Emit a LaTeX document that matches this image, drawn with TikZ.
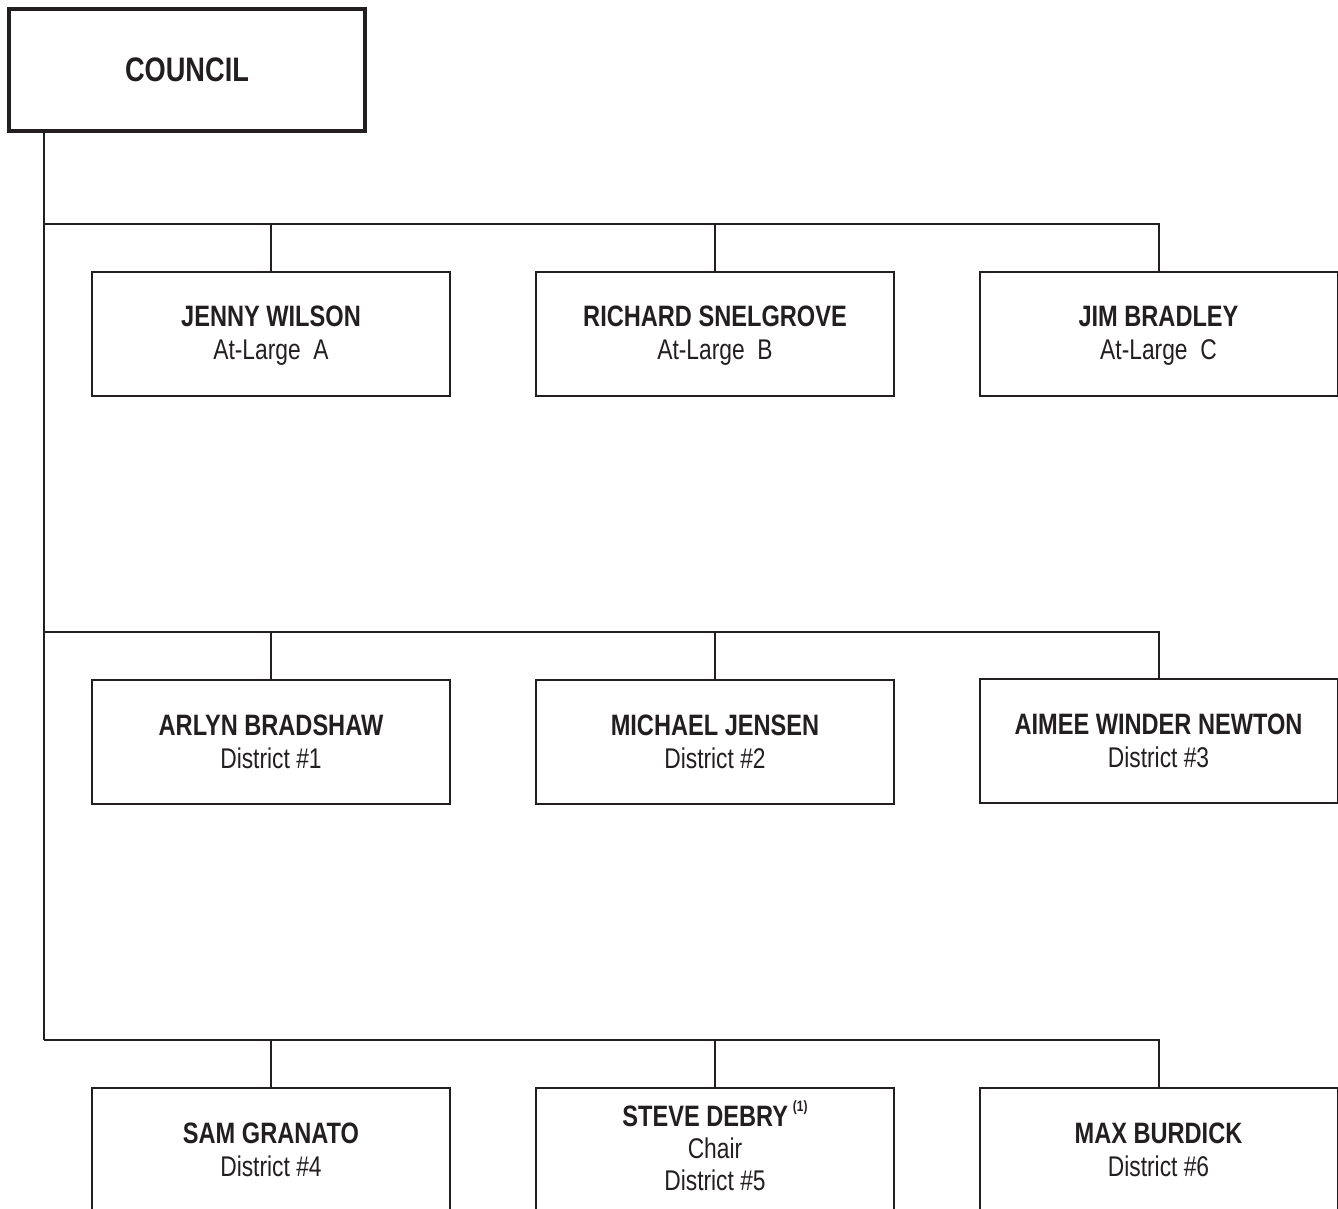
\documentclass[tikz,border=0pt]{standalone}
\usepackage{fontspec}
\setmainfont{Liberation Sans}[FakeStretch=0.8]
\definecolor{ink}{HTML}{231F20}
\newcommand{\nm}[1]{{\bfseries\fontsize{29.5}{33}\selectfont #1}}
\begin{document}
\begin{tikzpicture}[x=1pt,y=-1pt,
  box/.style={draw=ink,line width=2pt,rectangle,minimum width=358pt,minimum height=124pt,inner sep=0pt,align=center,text=ink,font=\fontsize{28.5}{33}\selectfont},
  topbox/.style={draw=ink,line width=4pt,rectangle,minimum width=356pt,minimum height=122pt,inner sep=0pt,text=ink,font=\fontsize{34}{40}\selectfont\bfseries},
  conn/.style={draw=ink,line width=2pt}]
\useasboundingbox (0,0) rectangle (1338,1209);
\node[topbox] (council) at (187,70) {COUNCIL};
\coordinate (t1) at (44,224);
\coordinate (t2) at (44,632);
\coordinate (t3) at (44,1040);
% row 1
\node[box,text depth=1pt] (jw) at (271,333.5) {\nm{JENNY WILSON}\\At-Large\ \ A};
\node[box,text depth=1pt] (rs) at (715,333.5) {\nm{RICHARD SNELGROVE}\\At-Large\ \ B};
\node[box,text depth=1pt] (jb) at (1158.5,333.5) {\nm{JIM BRADLEY}\\At-Large\ \ C};
% row 2
\node[box] (ab) at (271,741.5) {\nm{ARLYN BRADSHAW}\\District \#1};
\node[box] (mj) at (715,741.5) {\nm{MICHAEL JENSEN}\\District \#2};
\node[box] (aw) at (1158.5,740.5) {\nm{AIMEE WINDER NEWTON}\\District \#3};
% row 3
\node[box] (sg) at (271,1149.5) {\nm{SAM GRANATO}\\District \#4};
\node[box,text depth=8pt] (sd) at (715,1149.5) {\nm{STEVE DEBRY\,\raisebox{0.5em}{\fontsize{15}{15}\selectfont(1)}}\\[-1pt]Chair\\[-1pt]District \#5};
\node[box] (mb) at (1158.5,1149.5) {\nm{MAX BURDICK}\\District \#6};
% connectors
\draw[conn] (council.south -| t1) -- (t3);
\draw[conn] (t1) -| (jb.north);
\draw[conn] (jw.north) -- (jw.north |- t1);
\draw[conn] (rs.north) -- (rs.north |- t1);
\draw[conn] (t2) -| (aw.north);
\draw[conn] (ab.north) -- (ab.north |- t2);
\draw[conn] (mj.north) -- (mj.north |- t2);
\draw[conn] (t3) -| (mb.north);
\draw[conn] (sg.north) -- (sg.north |- t3);
\draw[conn] (sd.north) -- (sd.north |- t3);
\end{tikzpicture}
\end{document}
